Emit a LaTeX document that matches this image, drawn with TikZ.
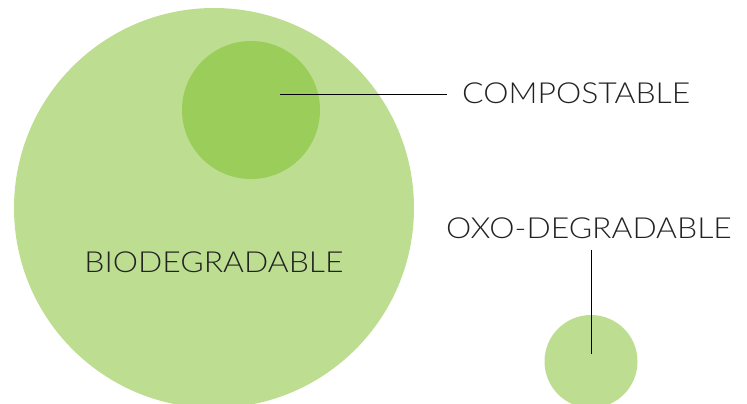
\documentclass[tikz,border=0pt]{standalone}
\usepackage{fontspec}
\setmainfont{Lato Light}[FakeStretch=1.1]
\usepackage{tikz}
\definecolor{biogreen}{HTML}{BDDE91}
\definecolor{compgreen}{HTML}{9ACD5A}
\definecolor{labelgray}{HTML}{222222}
\begin{document}
\begin{tikzpicture}[x=1pt, y=-1pt, font=\fontsize{29}{29}\selectfont, text=labelgray]
	\useasboundingbox (0, 0) rectangle (747, 404);
	\clip (0, 0) rectangle (747, 404);
	% Circles:
	\node[circle, fill=biogreen, minimum size=400pt, inner sep=0pt](N1) at (214, 208){};
	\node[circle, fill=compgreen, minimum size=138pt, inner sep=0pt](N2) at (251, 110){};
	\node[circle, fill=biogreen, minimum size=93pt, inner sep=0pt](N3) at (591, 361.5){};
	% Labels:
	\node[anchor=base, inner sep=0pt](N4) at (214, 272){BIODEGRADABLE};
	\node[anchor=base west, inner sep=0pt](N5) at (462, 103.3){COMPOSTABLE};
	\node[anchor=base west, inner sep=0pt](N6) at (446, 238.3){OXO-DEGRADABLE};
	% Leader lines:
	\coordinate (C1) at (280, 94.3);
	\coordinate (C2) at (447, 94.3);
	\coordinate (C3) at (591.5, 250);
	\coordinate (C4) at (591.5, 354);
	\draw[line width=1pt] (C1) -- (C2);
	\draw[line width=1pt] (C3) -- (C4);
\end{tikzpicture}
\end{document}
